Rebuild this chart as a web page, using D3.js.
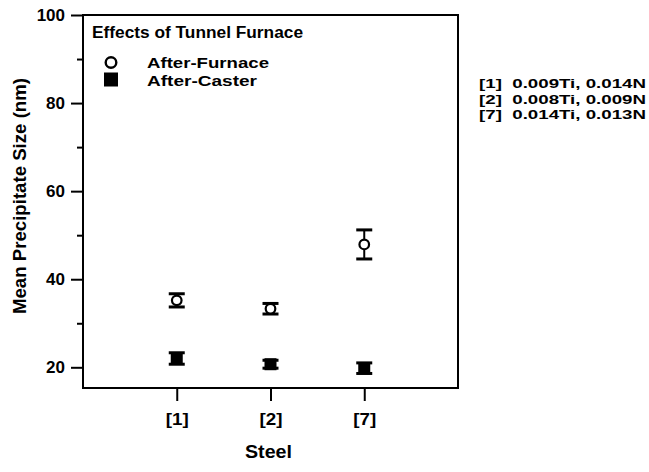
<!DOCTYPE html>
<html><head><meta charset="utf-8">
<script src="https://cdn.jsdelivr.net/npm/d3@7"></script>
<style>body{margin:0;background:#fff;} text{font-family:"Liberation Sans",Arial,sans-serif;font-weight:bold;fill:#000;}</style>
</head><body><svg id="c" width="649" height="472"></svg>
<script>
const steels = ["[1]", "[2]", "[7]"];
const furnaceMean = [35.2, 33.3, 47.9];
const furnaceErr = [1.5, 1.2, 3.3];
const casterMean = [22.0, 20.7, 19.8];
const casterErr = [1.3, 0.9, 1.2];
const yTicks = [20, 40, 60, 80, 100];
const yMinor = [30, 50, 70, 90];
const notes = ["[1]\u00a0\u00a00.009Ti, 0.014N", "[2]\u00a0\u00a00.008Ti, 0.009N", "[7]\u00a0\u00a00.014Ti, 0.013N"];

const svg = d3.select("#c");
const L = 83, R = 458, T = 15, B = 388;
const x = d3.scaleLinear().domain([0, 4]).range([L, R]);
const y = d3.scaleLinear().domain([15.3, 100]).range([B, T]);

// frame
svg.append("rect").attr("x", L).attr("y", T).attr("width", R - L).attr("height", B - T)
  .attr("fill", "none").attr("stroke", "#000").attr("stroke-width", 2);

// y axis
const yAxis = d3.axisLeft(y).tickValues(yTicks).tickSize(12).tickPadding(6).tickFormat(d3.format("d"));
const gy = svg.append("g").attr("transform", `translate(${L},0)`).call(yAxis);
gy.select(".domain").remove();
gy.selectAll("line").attr("stroke-width", 2);
gy.selectAll("text").style("font-size", "17px");
const gym = svg.append("g").attr("transform", `translate(${L},0)`)
  .call(d3.axisLeft(y).tickValues(yMinor).tickSize(6).tickFormat(""));
gym.select(".domain").remove();
gym.selectAll("line").attr("stroke-width", 2);

// x axis
const xAxis = d3.axisBottom(x).tickValues([1, 2, 3]).tickSize(13).tickPadding(12)
  .tickFormat((d) => steels[d - 1]);
const gx = svg.append("g").attr("transform", `translate(0,${B})`).call(xAxis);
gx.select(".domain").remove();
gx.selectAll("line").attr("stroke-width", 2);
gx.selectAll("text").style("font-size", "17px").attr("textLength", 23).attr("lengthAdjust", "spacingAndGlyphs");

// axis titles
svg.append("text").attr("x", (L + R) / 2 - 2).attr("y", 458).attr("text-anchor", "middle")
  .style("font-size", "18px").attr("textLength", 47).attr("lengthAdjust", "spacingAndGlyphs").text("Steel");
svg.append("text").attr("transform", `translate(26,196) rotate(-90)`)
  .attr("text-anchor", "middle").style("font-size", "17.5px")
  .attr("textLength", 236).attr("lengthAdjust", "spacingAndGlyphs").text("Mean Precipitate Size (nm)");

// error bars
function errBars(mean, err) {
  const g = svg.append("g");
  mean.forEach((m, i) => {
    const cx = x(i + 1);
    g.append("line").attr("x1", cx).attr("x2", cx).attr("y1", y(m + err[i])).attr("y2", y(m - err[i]))
      .attr("stroke", "#000").attr("stroke-width", 2);
    [m + err[i], m - err[i]].forEach((v) => {
      g.append("line").attr("x1", cx - 8).attr("x2", cx + 8).attr("y1", y(v)).attr("y2", y(v))
        .attr("stroke", "#000").attr("stroke-width", 3);
    });
  });
}
errBars(furnaceMean, furnaceErr);
errBars(casterMean, casterErr);

svg.append("g").selectAll("rect").data(casterMean).join("rect")
  .attr("x", (d, i) => x(i + 1) - 6).attr("y", (d) => y(d) - 6)
  .attr("width", 12).attr("height", 12).attr("fill", "#000");
svg.append("g").selectAll("circle").data(furnaceMean).join("circle")
  .attr("cx", (d, i) => x(i + 1)).attr("cy", (d) => y(d)).attr("r", 4.8)
  .attr("fill", "#fff").attr("stroke", "#000").attr("stroke-width", 2.2);

// legend
svg.append("text").attr("x", 92).attr("y", 38).style("font-size", "16px")
  .attr("textLength", 211).attr("lengthAdjust", "spacingAndGlyphs").text("Effects of Tunnel Furnace");
svg.append("circle").attr("cx", 111).attr("cy", 62.5).attr("r", 5.3).attr("fill", "#fff")
  .attr("stroke", "#000").attr("stroke-width", 2.4);
svg.append("rect").attr("x", 104).attr("y", 72.5).attr("width", 14).attr("height", 14).attr("fill", "#000");
svg.append("text").attr("x", 147).attr("y", 67.5).style("font-size", "15px")
  .attr("textLength", 122).attr("lengthAdjust", "spacingAndGlyphs").text("After-Furnace");
svg.append("text").attr("x", 147).attr("y", 85.5).style("font-size", "15px")
  .attr("textLength", 110).attr("lengthAdjust", "spacingAndGlyphs").text("After-Caster");

// notes
svg.append("g").selectAll("text").data(notes).join("text")
  .attr("x", 479).attr("y", (d, i) => 88 + i * 15.5)
  .attr("textLength", 167).attr("lengthAdjust", "spacingAndGlyphs")
  .style("font-size", "13.4px").text((d) => d);
</script></body></html>
